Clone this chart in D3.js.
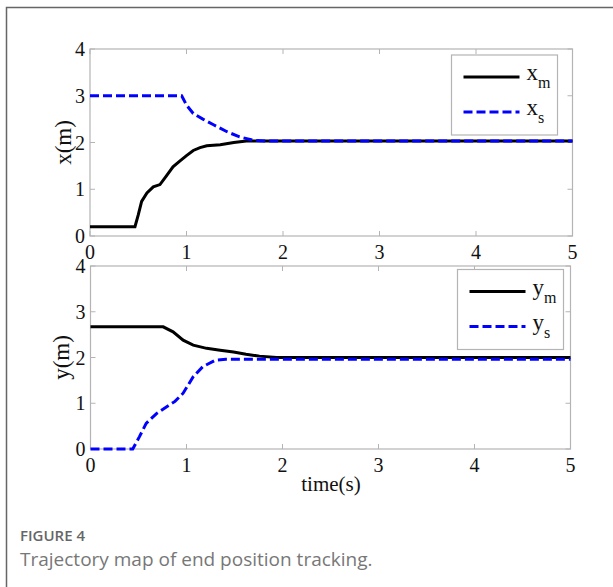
<!DOCTYPE html>
<html>
<head>
<meta charset="utf-8">
<script src="https://cdn.jsdelivr.net/npm/d3@7"></script>
<style>
  body { margin: 0; background: #fff; }
  svg { display: block; }
  .tick-label { font-family: "Liberation Serif", "Times New Roman", serif; font-size: 20px; fill: #111; }
  .axis-title { font-family: "Liberation Serif", "Times New Roman", serif; font-size: 21px; fill: #111; }
  .y-title { font-family: "Liberation Serif", "Times New Roman", serif; font-size: 23px; fill: #111; }
</style>
</head>
<body>
<div id="chart"></div>
<script>
// time ticks and value ticks
const timeTicks = [0, 1, 2, 3, 4, 5];
const posTicks = [0, 1, 2, 3, 4];

// x(m) panel
const xmTime = [0, 0.466, 0.5, 0.535, 0.59, 0.656, 0.725, 0.79, 0.86, 0.93, 1.0, 1.07, 1.14, 1.21, 1.35, 1.49, 1.62, 1.75, 5];
const xmVal  = [0.2, 0.2, 0.45, 0.74, 0.92, 1.05, 1.1, 1.28, 1.48, 1.6, 1.72, 1.83, 1.89, 1.93, 1.95, 2.0, 2.03, 2.03, 2.03];
const xsTime = [0, 0.95, 1.0, 1.07, 1.17, 1.28, 1.42, 1.55, 1.69, 1.83, 5];
const xsVal  = [3.0, 3.0, 2.8, 2.62, 2.5, 2.38, 2.23, 2.12, 2.05, 2.03, 2.03];

// y(m) panel
const ymTime = [0, 0.757, 0.86, 0.965, 1.07, 1.21, 1.35, 1.49, 1.62, 1.76, 1.94, 5];
const ymVal  = [2.67, 2.67, 2.56, 2.38, 2.27, 2.2, 2.16, 2.12, 2.07, 2.03, 2.0, 2.0];
const ysTime = [0, 0.44, 0.51, 0.58, 0.69, 0.79, 0.88, 0.965, 1.07, 1.17, 1.3, 1.41, 5];
const ysVal  = [0, 0, 0.27, 0.56, 0.78, 0.92, 1.04, 1.22, 1.58, 1.8, 1.94, 1.96, 1.96];

const panels = [
  { title: 'x', left: 90, right: 572.5, top: 49, bottom: 236, labelX: 71,
    legend: { x: 451.5, y: 55, w: 106, h: 80 },
    series: [
      { t: xmTime, v: xmVal, sub: 'm', color: '#000', dash: null },
      { t: xsTime, v: xsVal, sub: 's', color: '#0000ff', dash: '9,4' }
    ] },
  { title: 'y', left: 90.5, right: 570.5, top: 266, bottom: 449, labelX: 69,
    legend: { x: 457.5, y: 269.5, w: 106, h: 80 },
    series: [
      { t: ymTime, v: ymVal, sub: 'm', color: '#000', dash: null },
      { t: ysTime, v: ysVal, sub: 's', color: '#0000ff', dash: '9,4' }
    ] }
];

const width = 613, height = 587;
const svg = d3.select('#chart').append('svg')
  .attr('width', width)
  .attr('height', height);

// outer figure frame
svg.append('rect')
  .attr('x', 6.5).attr('y', 7.5)
  .attr('width', 640).attr('height', 620)
  .attr('fill', 'none')
  .attr('stroke', '#666')
  .attr('stroke-width', 1.5);

panels.forEach((p, idx) => {
  const x = d3.scaleLinear().domain([0, 5]).range([p.left, p.right]);
  const y = d3.scaleLinear().domain([0, 4]).range([p.bottom, p.top]);
  const g = svg.append('g');
  const axisColor = '#b4b4b4';
  const tickLen = 5;

  // box
  g.append('rect')
    .attr('x', p.left).attr('y', p.top)
    .attr('width', p.right - p.left).attr('height', p.bottom - p.top)
    .attr('fill', 'none').attr('stroke', axisColor).attr('stroke-width', 1.2);

  // inward ticks on all four sides
  timeTicks.forEach(t => {
    g.append('line').attr('x1', x(t)).attr('x2', x(t)).attr('y1', p.bottom).attr('y2', p.bottom - tickLen)
      .attr('stroke', axisColor);
    g.append('line').attr('x1', x(t)).attr('x2', x(t)).attr('y1', p.top).attr('y2', p.top + tickLen)
      .attr('stroke', axisColor);
  });
  posTicks.forEach(v => {
    g.append('line').attr('x1', p.left).attr('x2', p.left + tickLen).attr('y1', y(v)).attr('y2', y(v))
      .attr('stroke', axisColor);
    g.append('line').attr('x1', p.right).attr('x2', p.right - tickLen).attr('y1', y(v)).attr('y2', y(v))
      .attr('stroke', axisColor);
  });

  // tick labels
  g.selectAll('.xt').data(timeTicks).enter().append('text')
    .attr('class', 'tick-label')
    .attr('x', d => x(d)).attr('y', p.bottom + 23)
    .attr('text-anchor', 'middle')
    .text(d => d);
  g.selectAll('.yt').data(posTicks).enter().append('text')
    .attr('class', 'tick-label')
    .attr('x', p.left - 5).attr('y', d => y(d) + 7)
    .attr('text-anchor', 'end')
    .text(d => d);

  // y axis title
  g.append('text')
    .attr('class', 'y-title')
    .attr('transform', `translate(${p.labelX},${(p.top + p.bottom) / 2}) rotate(-90)`)
    .attr('text-anchor', 'middle')
    .text(p.title + '(m)');

  // lines
  const line = d3.line().x(d => x(d[0])).y(d => y(d[1]));
  p.series.forEach(s => {
    const pts = s.t.map((t, i) => [t, s.v[i]]);
    g.append('path')
      .datum(pts)
      .attr('d', line)
      .attr('fill', 'none')
      .attr('stroke', s.color)
      .attr('stroke-width', 3)
      .attr('stroke-dasharray', s.dash);
  });

  // legend
  const L = p.legend;
  g.append('rect')
    .attr('x', L.x).attr('y', L.y).attr('width', L.w).attr('height', L.h)
    .attr('fill', '#fff').attr('stroke', axisColor).attr('stroke-width', 1.2);
  p.series.forEach((s, i) => {
    const ly = L.y + 22 + i * 35;
    g.append('line')
      .attr('x1', L.x + 12).attr('x2', L.x + 68)
      .attr('y1', ly).attr('y2', ly)
      .attr('stroke', s.color).attr('stroke-width', 3)
      .attr('stroke-dasharray', s.dash);
    const t = g.append('text')
      .attr('class', 'y-title')
      .attr('x', L.x + 75).attr('y', ly + 3);
    t.append('tspan').text(p.title);
    t.append('tspan').attr('dy', 8).attr('font-size', 16).text(s.sub);
  });
});

// x axis title
svg.append('text')
  .attr('class', 'axis-title')
  .attr('x', 331).attr('y', 491)
  .attr('text-anchor', 'middle')
  .text('time(s)');

// caption
svg.append('text')
  .attr('x', 20).attr('y', 541)
  .attr('font-family', '"Open Sans", sans-serif')
  .attr('font-size', 15)
  .attr('font-weight', 600)
  .attr('fill', '#666')
  .text('FIGURE 4');
svg.append('text')
  .attr('x', 20).attr('y', 566)
  .attr('font-family', '"Open Sans", sans-serif')
  .attr('font-size', 19)
  .attr('fill', '#777')
  .text('Trajectory map of end position tracking.');
</script>
</body>
</html>
